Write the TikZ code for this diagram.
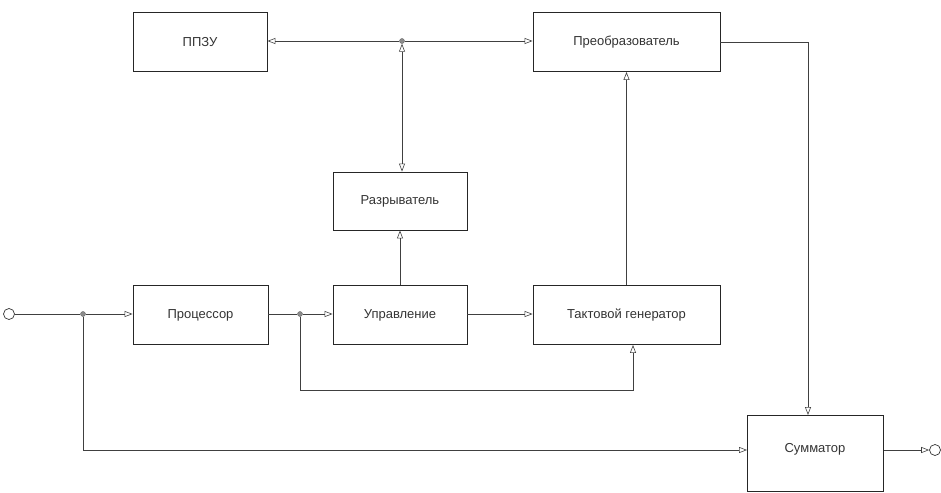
\documentclass[tikz,border=0pt]{standalone}
\usepackage{fontspec}
\setmainfont{Liberation Sans}
\usetikzlibrary{arrows.meta}
\begin{document}
\begin{tikzpicture}[x=1pt,y=-1pt,
  blk/.style={draw=black!85, line width=0.9pt, minimum height=59pt, inner sep=0pt, font=\fontsize{13}{15}\selectfont, text=black!80},
  ln/.style={draw=black!75, line width=0.6pt},
  arr/.style={ln, -{Triangle[open, length=8pt, width=6pt]}},
  jdot/.style={circle, fill=black!45, draw=black!60, inner sep=0pt, minimum size=5pt},
  term/.style={circle, draw=black!80, line width=0.7pt, inner sep=0pt, minimum size=11pt}]
\useasboundingbox (0,0) rectangle (941,492);
\node[blk, minimum width=134pt] (ppzu) at (200,42) {ППЗУ};
\node[blk, minimum width=187pt] (preob) at (626.5,42) {Преобразователь};
\node[blk, minimum width=134pt, minimum height=58pt] (razr) at (400,201) {Разрыватель};
\node[blk, minimum width=135pt] (proc) at (200.5,315) {Процессор};
\node[blk, minimum width=134pt] (upr) at (400,315) {Управление};
\node[blk, minimum width=187pt] (takt) at (626.5,315) {Тактовой генератор};
\node[blk, minimum width=136pt, minimum height=76pt, anchor=north west] (summ) at (747,415) {};
\node[font=\fontsize{13}{15}\selectfont, text=black!80] (summt) at (815,449) {Сумматор};
\node[term] (in) at (9,314) {};
\node[term] (out) at (935,450) {};
\node[jdot] (j1) at (402,41) {};
\node[jdot] (j2) at (83,314) {};
\node[jdot] (j3) at (300,314) {};
\coordinate (c1) at (83,450);
\coordinate (c2) at (300,390);
\coordinate (c3) at (633,390);
\coordinate (c4) at (808,42);
% top bus
\draw[arr] (j1) -- (ppzu.east |- j1);
\draw[arr] (j1) -- (preob.west |- j1);
\draw[ln, {Triangle[open, length=8pt, width=6pt]}-{Triangle[open, length=8pt, width=6pt]}] (j1) -- (razr.north -| j1);
\draw[arr] (upr.north) -- (razr.south);
% main row
\draw[ln] (in) -- (j2);
\draw[arr] (j2) -- (proc.west |- j2);
\draw[ln] (proc.east |- j3) -- (j3);
\draw[arr] (j3) -- (upr.west |- j3);
\draw[arr] (upr.east |- j3) -- (takt.west |- j3);
\draw[arr] (takt.north) -- (preob.south);
% feedback
\draw[arr] (j3) -- (c2) -- (c3) -- (takt.south -| c3);
% bypass
\draw[arr] (j2) -- (c1) -- (summ.west |- c1);
% output of preob
\draw[arr] (preob.east |- c4) -- (c4) -- (summ.north -| c4);
\draw[arr] (summ.east |- out) -- (out);
\end{tikzpicture}
\end{document}
